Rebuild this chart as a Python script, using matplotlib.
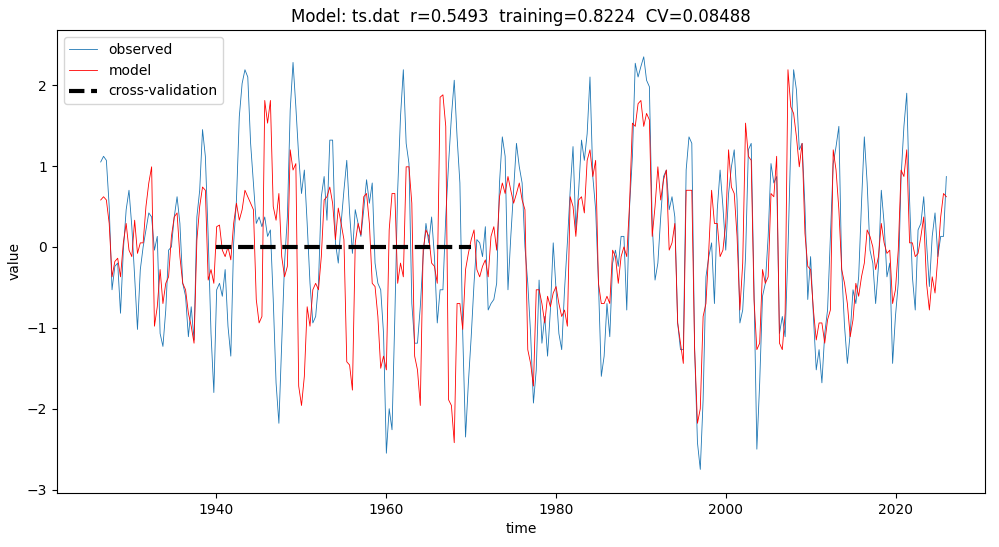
import numpy as np
import matplotlib

matplotlib.use("Agg")

import matplotlib.pyplot as plt


TITLE = "Model: ts.dat  r=0.5493  training=0.8224  CV=0.08488"

T_START = 1926.45
T_END = 2025.95

# observed series (3 values per year)
OBSERVED = [
    1.05, 1.12, 1.07, 0.5, -0.53, -0.24, -0.2, -0.82, -0.04, 0.46,
    0.7, 0.25, -0.37, -1.02, -0.28, 0.0, 0.21, 0.42, 0.37, -0.04,
    0.13, -1.07, -1.23, -0.78, -0.04,
    0.0, 0.37, 0.62, 0.29, -0.45, -0.61, -1.11, -0.74, -1.15, 0.37,
    0.7, 1.45, 1.12, 0.13, -1.07, -1.8, -0.53, -0.45, -0.61, -0.28,
    -0.98, -1.35, 0.05, 0.58, 1.61,
    2.02, 2.19, 2.1, 1.28, 0.79, 0.29, 0.37, 0.25, 0.37, 0.13,
    0.21, -0.65, -1.68, -2.18, -1.19, -0.2, 0.37, 1.69, 2.28, 1.73,
    1.12, 0.66, 0.95, 0.29, -0.45, -0.94,
    -0.86, -0.45, 0.62, 0.87, 0.33, 1.32, 1.32, 0.05, -0.2, 0.29,
    0.7, 1.07, 0.42, -0.08, 0.46, 0.29, 0.13, 0.46, 0.83, 0.54,
    0.79, -0.2, -0.45, -0.53, -1.07,
    -2.55, -2.0, -2.26, -0.86, 0.7, 1.61, 2.19, 1.28, 1.03, -0.7,
    -1.19, -1.19, -0.74, -0.12, 0.29, 0.05, 0.37, -0.12, -0.94, -0.53,
    -0.53, 0.37, 1.03, 1.61, 2.06, 1.36,
    0.79, -1.07, -2.35, -1.68, -1.11, -0.45, 0.09, 0.05, -0.12, 0.25,
    -0.78, -0.7, -0.65, -0.45, 0.79, 1.36, 1.12, -0.53, 0.13, 0.7,
    1.28, 0.99, 0.79, 0.0, -0.45,
    -1.07, -1.93, -1.52, -0.41, -1.19, -0.86, -1.35, -0.78, 0.05, -0.53,
    -1.07, -1.27, -0.53, 0.05, 0.7, 1.24, 0.21, 0.7, 1.32, 1.07,
    1.4, 2.1, 0.87, 0.46, -0.45, -1.6,
    -1.35, -0.7, -1.11, -0.2, -0.04, -0.24, 0.13, 0.13, -0.78, 0.5,
    1.12, 2.27, 2.1, 2.23, 2.35, 2.06, 1.98, 0.29, -0.41, -0.2,
    0.37, 0.87, 0.95, 0.46, 0.62,
    0.37, -0.94, -1.27, -1.27, 0.95, 1.36, 1.28, -1.27, -2.42, -2.75,
    -1.89, -0.37, -0.12, 0.05, -0.7, 0.46, 0.95, 0.5, -0.04, 0.66,
    0.99, 1.2, 0.58, -0.94, -0.78,
    -0.12, 1.2, 1.28, -0.53, -2.5, -1.68, -0.61, -0.45, 0.13, 1.03,
    0.79, 0.87, -1.07, -0.86, -1.11, -0.04, 1.28, 2.19, 1.94, 1.2,
    1.28, 0.5, -0.65, -0.12, -0.86, -1.52,
    -1.27, -1.68, -1.07, -0.78, 0.13, 1.03, 1.24, 1.49, -0.28, -0.98,
    -1.44, -1.07, -0.53, -0.7, -0.37, 0.54, 1.36, 0.79, -0.04, -0.2,
    -0.7, -0.24, 0.7, 0.29, -0.37,
    -0.2, -1.44, -0.86, -0.45, 0.87, 1.49, 1.9, 0.58, -0.37, -0.78,
    0.21, 0.29, 0.62, 0.05, -0.49, 0.13, 0.42, -0.12, 0.13, 0.13,
    0.87,
]

# model series, same time steps
MODEL = [
    0.58, 0.62, 0.58, 0.29, -0.37, -0.18, -0.14, -0.37, 0.05, 0.29,
    -0.04, -0.12, 0.33, -0.08, 0.05, 0.05, 0.5, 0.79, 0.99, -0.98,
    -0.74, -0.28, -0.7, -0.45, -0.37,
    0.13, 0.37, 0.42, -0.12, -0.45, -0.53, -0.82, -0.98, -1.19, 0.08,
    0.5, 0.74, 0.7, -0.41, -0.28, -0.45, 0.25, 0.27, -0.04, -0.12,
    0.0, -0.16, 0.29, 0.54, 0.33,
    0.46, 0.7, 0.62, 0.54, 0.46, -0.65, -0.94, -0.86, 1.81, 1.53,
    1.81, 0.5, 0.33, 0.66, -0.12, -0.37, -0.24, 1.2, 0.95, 1.03,
    -1.72, -1.96, -1.6, -0.74, -0.98, -0.53,
    -0.45, -0.53, -0.12, 0.58, 0.62, 0.74, 0.54, 0.09, 0.48, 0.29,
    0.09, -1.42, -1.46, -1.77, 0.05, 0.29, 0.15, 0.62, 0.66, 0.29,
    -0.45, -0.49, -0.86, -1.5, -1.35,
    -1.52, 0.21, 0.66, 0.66, -0.45, -0.2, -0.37, 0.99, 0.99, 0.54,
    -1.35, -1.52, -1.96, -0.04, 0.21, 0.13, -0.2, -0.24, -0.45, 1.85,
    1.88, 1.49, -1.89, -1.96, -2.42, -0.7,
    -0.7, -1.02, -0.28, -0.08, 0.09, 0.21, -0.28, -0.37, -0.24, -0.16,
    -0.37, 0.13, 0.25, -0.04, 0.62, 0.79, 0.66, 0.87, 0.7, 0.54,
    0.66, 0.79, 0.58, 0.46, -1.27,
    -1.44, -1.72, -0.53, -0.53, -0.7, -0.94, -0.61, -0.74, -0.57, -0.49,
    -0.7, -0.86, -0.78, -0.98, 0.62, 0.5, 0.13, 0.58, 0.62, 0.42,
    1.07, 1.2, 0.87, 1.07, -0.45, -0.7,
    -0.7, -0.61, -0.7, -0.04, -0.12, -0.45, -0.12, 0.0, -0.12, 0.54,
    1.53, 1.49, 1.77, 1.81, 1.49, 1.65, 1.57, 0.13, 0.5, 0.99,
    0.58, 0.83, 0.95, -0.04, 0.05,
    0.29, -0.94, -1.19, -1.44, 0.7, 0.7, 0.7, -1.27, -2.18, -2.0,
    -0.86, -0.7, -0.04, 0.7, 0.29, 0.29, -0.12, -0.04, 0.29, 1.2,
    0.74, 0.66, 0.13, -0.78, -0.2,
    1.53, 1.12, 1.07, -0.65, -1.27, -1.19, -0.28, -0.45, -0.37, 0.66,
    0.62, 1.12, -1.19, -1.27, -0.82, 2.19, 1.73, 1.65, 1.36, 0.99,
    1.28, 0.17, -0.24, -0.28, -0.78, -1.15,
    -0.94, -0.94, -1.19, -0.9, -0.78, 1.2, 0.95, 0.46, -0.28, -0.45,
    -0.7, -1.11, -0.9, -0.45, -0.61, -0.37, -0.2, 0.21, 0.13, 0.0,
    -0.28, -0.12, 0.29, 0.05, -0.08,
    -0.04, -0.7, -0.53, -0.04, 0.95, 0.87, 1.2, 0.05, 0.05, -0.12,
    -0.08, 0.13, 0.37, -0.45, -0.78, -0.37, -0.57, -0.12, 0.37, 0.66,
    0.62,
]

CV_YEARS = [1940, 1970]
CV_VALUES = [0.0, 0.0]


def main() -> None:
    time_obs = np.linspace(T_START, T_END, len(OBSERVED))
    time_mod = np.linspace(T_START, T_END, len(MODEL))

    fig = plt.figure(figsize=(9.99, 5.47), dpi=100)
    ax = fig.add_axes([0.057, 0.099, 0.929, 0.846])

    ax.plot(time_obs, OBSERVED, color="#1f77b4", linewidth=0.6, label="observed")
    ax.plot(time_mod, MODEL, color="red", linewidth=0.6, label="model")
    ax.plot(CV_YEARS, CV_VALUES, color="black", linestyle="--", linewidth=3,
            label="cross-validation")

    ax.set_xlim(1921.3, 2030.5)
    ax.set_ylim(-3.04, 2.68)
    ax.set_xticks([1940, 1960, 1980, 2000, 2020])
    ax.set_yticks([-3, -2, -1, 0, 1, 2])
    ax.set_title(TITLE)
    ax.set_xlabel("time")
    ax.set_ylabel("value")
    ax.legend(loc="upper left")

    fig.savefig("out.png", dpi=100)
    plt.close(fig)


if __name__ == "__main__":
    main()
